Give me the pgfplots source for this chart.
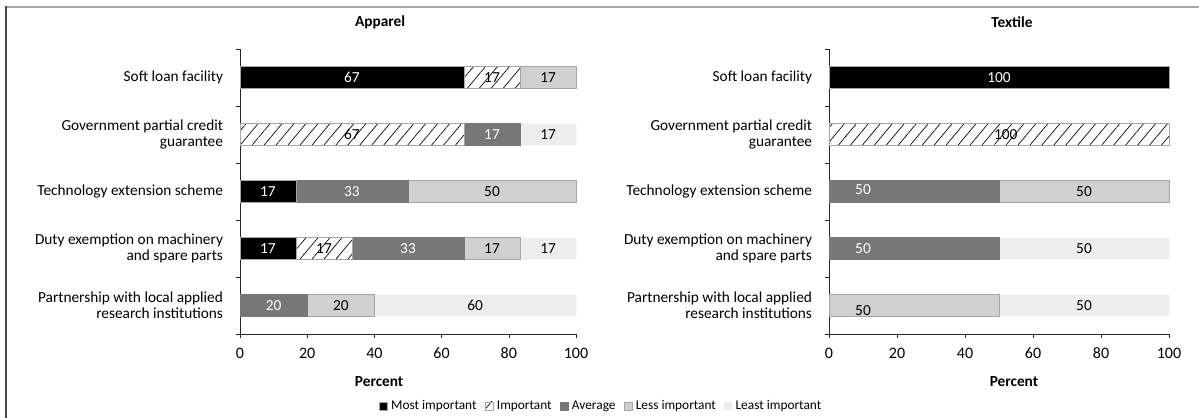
\documentclass[border=0pt]{standalone}
\usepackage{fontspec}
\setmainfont{Carlito}
\usepackage{pgfplots}
\pgfplotsset{compat=1.18}
\usetikzlibrary{patterns.meta}
\definecolor{avgc}{HTML}{777777}
\definecolor{lessc}{HTML}{D0D0D0}
\definecolor{leastc}{HTML}{EDEDED}
\definecolor{bordc}{HTML}{A6A6A6}
\newcommand{\lf}{\fontsize{9.2}{9.6}\selectfont}
\tikzset{
   lab/.style={font=\lf, text=black},
   labw/.style={font=\lf, text=white},
}
\pgfplotsset{
 mybars/.style={
   xbar stacked, bar width=13pt, scale only axis, height=171pt,
   xmin=0, xmax=100, ymin=-0.5, ymax=4.5,
   axis lines=left, axis line style={-, black!85},
   xtick={0,20,...,100}, tick align=outside, major tick length=2.4pt,
   ytick={-0.5,0.5,1.5,2.5,3.5,4.5}, yticklabels={},
   extra y ticks={0,1,2,3,4},
   extra y tick labels={{Partnership with local applied\\research institutions},{Duty exemption on machinery\\and spare parts},{Technology extension scheme},{Government partial credit\\guarantee},{Soft loan facility}},
   extra y tick style={major tick length=0pt},
   yticklabel style={align=right, inner sep=0pt, xshift=-10pt, font=\lf},
   xticklabel style={font=\fontsize{9.6}{10}\selectfont, yshift=-2.5pt},
   /pgf/number format/assume math mode=true,
   title style={font=\lf\bfseries, anchor=center},
   xlabel={Percent},
   xlabel style={font=\lf\bfseries, anchor=center},
   tick style={black!85},
   clip=false,
 },
 most/.style={fill=black, draw=bordc},
 imp/.style={pattern={Lines[angle=50,distance=5.5pt,line width=0.4pt]}, pattern color=black, draw=bordc},
 avg/.style={fill=avgc, draw=avgc},
 less/.style={fill=lessc, draw=bordc},
 least/.style={fill=leastc, draw=none},
}
\begin{document}
\begin{tikzpicture}
\useasboundingbox (0,0) rectangle (719.4pt,250.2pt);
\fill[white] (0,0) rectangle (719.4pt,250.2pt);
\draw[line width=1.2pt, black!35] (3.6pt,246pt) -- (725pt,246pt);
\draw[line width=0.9pt, black!70] (3.6pt,-5pt) -- (3.6pt,246.6pt);

\begin{axis}[mybars, at={(144pt,49.8pt)}, anchor=south west, width=201.6pt,
  title={Apparel}, title style={at={(axis description cs:0.417,1)}, yshift=10.2pt},
  xlabel style={at={(axis description cs:0.414,0)}, yshift=-28.8pt},
  legend style={at={(axis description cs:1.077,-0.2526)}, anchor=center, draw=none, fill=none,
    legend columns=5, font=\fontsize{8}{9}\selectfont, inner sep=0pt,
    /tikz/every even column/.append style={column sep=3pt}},
  legend image code/.code={\path[#1] (0pt,-2.4pt) rectangle (4.8pt,2.4pt);},
]
\addplot[most]  coordinates {(66.67,4) (0,3) (16.67,2) (16.67,1) (0,0)};
\addplot[imp]   coordinates {(16.67,4) (66.67,3) (0,2) (16.67,1) (0,0)};
\addplot[avg]   coordinates {(0,4) (16.67,3) (33.33,2) (33.33,1) (20,0)};
\addplot[less]  coordinates {(16.67,4) (0,3) (50,2) (16.67,1) (20,0)};
\addplot[least] coordinates {(0,4) (16.67,3) (0,2) (16.67,1) (60,0)};
\legend{Most important, Important, Average, Less important, Least important}
\coordinate (a1) at (axis cs:33.3,4);
\coordinate (a2) at (axis cs:75,4);
\coordinate (a3) at (axis cs:91.7,4);
\coordinate (a4) at (axis cs:33.3,3);
\coordinate (a5) at (axis cs:75,3);
\coordinate (a6) at (axis cs:91.7,3);
\coordinate (a7) at (axis cs:8.3,2);
\coordinate (a8) at (axis cs:33.3,2);
\coordinate (a9) at (axis cs:75,2);
\coordinate (a10) at (axis cs:8.3,1);
\coordinate (a11) at (axis cs:25,1);
\coordinate (a12) at (axis cs:50,1);
\coordinate (a13) at (axis cs:75,1);
\coordinate (a14) at (axis cs:91.7,1);
\coordinate (a15) at (axis cs:10,0);
\coordinate (a16) at (axis cs:30,0);
\coordinate (a17) at (axis cs:70,0);
\end{axis}
\node[labw] at (a1) {67};
\node[lab]  at (a2) {17};
\node[lab]  at (a3) {17};
\node[lab]  at (a4) {67};
\node[labw] at (a5) {17};
\node[lab]  at (a6) {17};
\node[labw] at (a7) {17};
\node[labw] at (a8) {33};
\node[lab]  at (a9) {50};
\node[labw] at (a10) {17};
\node[lab]  at (a11) {17};
\node[labw] at (a12) {33};
\node[lab]  at (a13) {17};
\node[lab]  at (a14) {17};
\node[labw] at (a15) {20};
\node[lab]  at (a16) {20};
\node[lab]  at (a17) {60};

\begin{axis}[mybars, at={(497.4pt,49.8pt)}, anchor=south west, width=204pt,
  title={Textile}, title style={at={(axis description cs:0.538,1)}, yshift=10.2pt},
  xlabel style={at={(axis description cs:0.544,0)}, yshift=-28.8pt},
]
\addplot[most]  coordinates {(100,4) (0,3) (0,2) (0,1) (0,0)};
\addplot[imp]   coordinates {(0,4) (100,3) (0,2) (0,1) (0,0)};
\addplot[avg]   coordinates {(0,4) (0,3) (50,2) (50,1) (0,0)};
\addplot[less]  coordinates {(0,4) (0,3) (50,2) (0,1) (50,0)};
\addplot[least] coordinates {(0,4) (0,3) (0,2) (50,1) (50,0)};
\coordinate (b1) at (axis cs:50,4);
\coordinate (b2) at (axis cs:52,3);
\coordinate (b3) at (axis cs:10,2.04);
\coordinate (b4) at (axis cs:75,2);
\coordinate (b5) at (axis cs:10,1);
\coordinate (b6) at (axis cs:75,1);
\coordinate (b7) at (axis cs:10,-0.09);
\coordinate (b8) at (axis cs:75,0);
\end{axis}
\node[labw] at (b1) {100};
\node[lab]  at (b2) {100};
\node[labw] at (b3) {50};
\node[lab]  at (b4) {50};
\node[labw] at (b5) {50};
\node[lab]  at (b6) {50};
\node[lab]  at (b7) {50};
\node[lab]  at (b8) {50};
\end{tikzpicture}
\end{document}
